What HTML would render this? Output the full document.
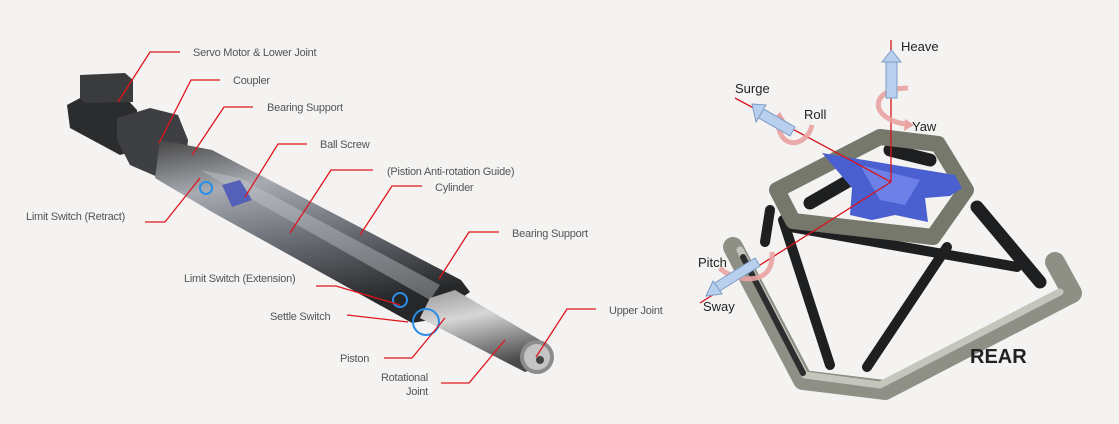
<!DOCTYPE html>
<html><head><meta charset="utf-8"><style>
html,body{margin:0;padding:0;background:#f4f3f1;}
svg{display:block}
.l{font-family:"Liberation Sans",sans-serif;font-size:11px;fill:#555;letter-spacing:-0.25px}
.r{font-family:"Liberation Sans",sans-serif;font-size:13px;fill:#222}
</style></head><body>
<svg width="1119" height="424" viewBox="0 0 1119 424" xmlns="http://www.w3.org/2000/svg">
<rect width="1119" height="424" fill="#f4f3f1"/>
<defs>
<linearGradient id="tube" x1="0" y1="0" x2="0.3" y2="1">
<stop offset="0" stop-color="#444"/><stop offset="0.3" stop-color="#a8acb2"/><stop offset="0.6" stop-color="#6d7178"/><stop offset="1" stop-color="#262729"/></linearGradient>
<linearGradient id="rod" x1="0" y1="0" x2="0.3" y2="1">
<stop offset="0" stop-color="#999"/><stop offset="0.4" stop-color="#d6d6d6"/><stop offset="1" stop-color="#4a4a4a"/></linearGradient>
</defs>
<!-- LEFT actuator -->
<polygon points="67,105 82,97 125,97 137,110 137,150 120,155 70,128" fill="#2b2c2e"/>
<polygon points="80,75 125,73 133,80 133,102 85,103 80,98" fill="#3a3b3d"/>
<polygon points="117,118 150,108 178,115 188,140 185,170 160,178 130,165 117,140" fill="#3e3f42"/>
<polygon points="160,140 212,150 461,280 470,292 430,320 412,323 212,212 155,178" fill="url(#tube)"/>
<polygon points="200,170 240,178 440,285 430,300" fill="#c8ccd2" opacity="0.4"/>
<polygon points="222,185 240,180 252,200 232,207" fill="#5560b8"/>
<polygon points="430,298 455,290 540,340 545,365 525,372 420,318" fill="url(#rod)"/>
<circle cx="537" cy="357" r="17" fill="#8c8c8c"/>
<circle cx="537" cy="357" r="13" fill="#c4c4c4"/>
<circle cx="540" cy="360" r="4" fill="#444"/>
<circle cx="206" cy="188" r="6" fill="none" stroke="#2b8de8" stroke-width="2"/>
<circle cx="400" cy="300" r="7" fill="none" stroke="#2b8de8" stroke-width="2"/>
<circle cx="426" cy="322" r="13" fill="none" stroke="#2b8de8" stroke-width="2"/>
<g fill="none" stroke="#e0141c" stroke-width="1.3">
<polyline points="180,52 150,52 118,102"/>
<polyline points="220,80 191,80 159,143"/>
<polyline points="253,107 224,107 192,155"/>
<polyline points="307,144 278,144 245,197"/>
<polyline points="373,170 331,170 290,233"/>
<polyline points="422,186 392,186 360,235"/>
<polyline points="145,222 165,222 200,178"/>
<polyline points="499,232 469,232 439,279"/>
<polyline points="316,286 336,286 400,305"/>
<polyline points="347,315 408,322"/>
<polyline points="384,358 412,358 445,318"/>
<polyline points="441,383 469,383 505,340"/>
<polyline points="596,309 567,309 536,357"/>
</g>
<text class="l" x="193" y="56">Servo Motor &amp; Lower Joint</text>
<text class="l" x="233" y="84">Coupler</text>
<text class="l" x="267" y="111">Bearing Support</text>
<text class="l" x="320" y="148">Ball Screw</text>
<text class="l" x="387" y="175">(Pistion Anti-rotation Guide)</text>
<text class="l" x="435" y="191">Cylinder</text>
<text class="l" x="26" y="220">Limit Switch (Retract)</text>
<text class="l" x="512" y="237">Bearing Support</text>
<text class="l" x="184" y="282">Limit Switch (Extension)</text>
<text class="l" x="270" y="320">Settle Switch</text>
<text class="l" x="609" y="314">Upper Joint</text>
<text class="l" x="340" y="362">Piston</text>
<text class="l" x="428" y="381" text-anchor="end">Rotational</text>
<text class="l" x="428" y="395" text-anchor="end">Joint</text>
<!-- RIGHT platform -->
<g stroke-linecap="round" stroke-linejoin="round">
<!-- behind legs -->
<g stroke="#1e1f20" stroke-width="13">
<line x1="810" y1="203" x2="850" y2="180"/>
<line x1="890" y1="150" x2="930" y2="160"/>
<line x1="977" y1="207" x2="1040" y2="282"/>
</g>
<line x1="1050" y1="300" x2="887" y2="387" stroke="#151515" stroke-width="8"/>
<polyline points="733,247 803,380 885,390 1072,293 1055,262" fill="none" stroke="#8e9085" stroke-width="20"/>
<polyline points="740,250 805,375 880,385 1060,292" fill="none" stroke="#c4c6bd" stroke-width="7"/>
<g stroke="#1e1f20" stroke-width="10">
<line x1="783" y1="220" x2="830" y2="365"/>
<line x1="947" y1="247" x2="867" y2="367"/>
<line x1="790" y1="227" x2="1017" y2="267"/>
<line x1="770" y1="210" x2="765" y2="242"/>
</g>
<line x1="743" y1="257" x2="803" y2="373" stroke="#2c2d2e" stroke-width="6"/>
<polygon points="777,190 880,137 938,144 966,190 933,237 793,221" fill="none" stroke="#75786b" stroke-width="16"/>
</g>
<polygon points="822,153 955,175 962,188 950,196 925,198 928,222 895,215 872,220 850,215 852,188" fill="#4a5fd0"/>
<polygon points="860,165 920,180 905,205 880,200" fill="#6c80e8"/>
<g stroke="#d8141c" stroke-width="1.3">
<line x1="891" y1="40" x2="891" y2="182"/>
<line x1="735" y1="98" x2="891" y2="182"/>
<line x1="700" y1="303" x2="891" y2="182"/>
</g>
<!-- pink rotation arrows -->
<g fill="none" stroke="#eaa3a3" stroke-width="5" opacity="0.9">
<path d="M908,88 C870,88 868,118 905,124"/>
<path d="M812,125 C808,145 782,152 778,125"/>
<path d="M772,252 C775,290 730,280 720,268"/>
</g>
<polygon points="905,119 914,125 904,131" fill="#eaa3a3"/>
<polygon points="772,120 780,112 786,122" fill="#eaa3a3"/>
<!-- blue arrows -->
<g fill="#b8d0ee" stroke="#7c9cc4" stroke-width="1">
<rect x="886" y="60" width="11" height="38"/>
<polygon points="882,62 901,62 891.5,50"/>
<polygon points="795,127 790,136 757,117 762,108"/>
<polygon points="752,104 766,105 756,122"/>
<polygon points="755,258 760,266 718,292 713,284"/>
<polygon points="706,296 713,281 722,294"/>
</g>
<text class="r" x="901" y="51">Heave</text>
<text class="r" x="735" y="93">Surge</text>
<text class="r" x="804" y="119">Roll</text>
<text class="r" x="912" y="131">Yaw</text>
<text class="r" x="698" y="267">Pitch</text>
<text class="r" x="703" y="311">Sway</text>
<text x="970" y="363" font-family="Liberation Sans,sans-serif" font-weight="bold" font-size="20" fill="#222">REAR</text>
</svg>
</body></html>
